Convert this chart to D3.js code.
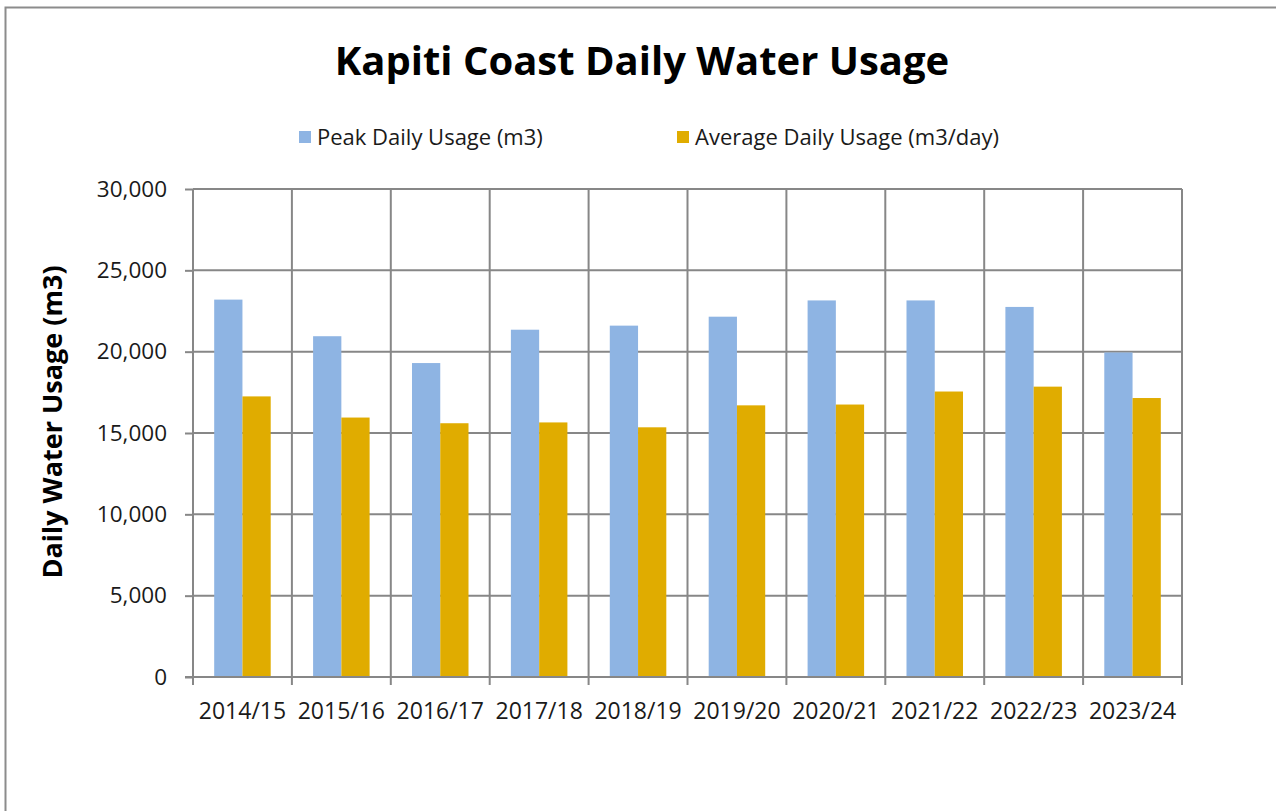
<!DOCTYPE html>
<html>
<head>
<meta charset="utf-8">
<script src="https://cdn.jsdelivr.net/npm/d3@7"></script>
<style>
  html, body { margin: 0; padding: 0; background: #fff; overflow: hidden; }
  svg { display: block; font-family: "Open Sans", sans-serif; }
</style>
</head>
<body>
<script>
// Chart data
const years = ["2014/15", "2015/16", "2016/17", "2017/18", "2018/19",
	"2019/20", "2020/21", "2021/22", "2022/23", "2023/24"];
const peakUsage = [23200, 20950, 19300, 21350, 21600, 22150, 23150, 23150, 22750, 19950];
const avgUsage = [17250, 15950, 15600, 15650, 15350, 16700, 16750, 17550, 17850, 17150];
const seriesNames = ["Peak Daily Usage (m3)", "Average Daily Usage (m3/day)"];
const seriesColors = ["#8EB4E3", "#E0AC00"];
const yTicks = [0, 5000, 10000, 15000, 20000, 25000, 30000];

const width = 1276, height = 811;
const margin = { top: 189, right: 94, bottom: 134, left: 193 };
const plotW = width - margin.left - margin.right,
	plotH = height - margin.top - margin.bottom;
const gridColor = "#878787";

const rows = years.map((y, i) => ({ year: y, values: [peakUsage[i], avgUsage[i]] }));

const svg = d3.select("body")
	.append("svg")
	.attr("width", width)
	.attr("height", height);

// outer chart border (runs off right and bottom edges)
svg.append("rect")
	.attr("x", 5.5).attr("y", 7.5)
	.attr("width", 1400).attr("height", 1000)
	.attr("fill", "none")
	.attr("stroke", "#8c8c8c")
	.attr("stroke-width", 2);

// Title
svg.append("text")
	.attr("x", 642)
	.attr("y", 75)
	.attr("text-anchor", "middle")
	.style("font-weight", "bold")
	.style("font-size", "40px")
	.attr("fill", "#000")
	.text("Kapiti Coast Daily Water Usage");

// Legend
const legendX = [298, 676];
const legend = svg.append("g")
	.selectAll("g")
	.data(seriesNames)
	.enter()
	.append("g")
	.attr("transform", (d, i) => "translate(" + legendX[i] + ",137)");
legend.append("rect")
	.attr("x", 1).attr("y", -6)
	.attr("width", 12).attr("height", 12)
	.attr("fill", (d, i) => seriesColors[i]);
legend.append("text")
	.attr("x", 19)
	.attr("dy", "0.35em")
	.style("font-size", "22px")
	.attr("fill", "#1a1a1a")
	.text(d => d);

const g = svg.append("g")
	.attr("transform", "translate(" + margin.left + "," + margin.top + ")");

// Scales
const x0 = d3.scaleBand().domain(years).range([0, plotW]).padding(0);
const x1 = d3.scaleBand().domain([0, 1]).range([0, x0.bandwidth()])
	.paddingInner(0).paddingOuter(0.75);
const y = d3.scaleLinear().domain([0, 30000]).range([plotH, 0]);

// Horizontal gridlines
g.append("g")
	.selectAll("line")
	.data(yTicks)
	.enter()
	.append("line")
	.attr("x1", 0).attr("x2", plotW)
	.attr("y1", d => y(d)).attr("y2", d => y(d))
	.attr("stroke", gridColor)
	.attr("stroke-width", 2);

// Vertical gridlines at category boundaries
const bounds = years.map(d => x0(d)).concat([plotW]);
g.append("g")
	.selectAll("line")
	.data(bounds)
	.enter()
	.append("line")
	.attr("x1", d => d).attr("x2", d => d)
	.attr("y1", 0).attr("y2", plotH + 8)
	.attr("stroke", gridColor)
	.attr("stroke-width", 2);

// Bars
g.append("g")
	.selectAll("g")
	.data(rows)
	.enter()
	.append("g")
	.attr("transform", d => "translate(" + x0(d.year) + ",0)")
	.selectAll("rect")
	.data(d => d.values)
	.enter()
	.append("rect")
	.attr("x", (d, i) => x1(i))
	.attr("width", x1.bandwidth())
	.attr("y", d => y(d))
	.attr("height", d => plotH - y(d))
	.attr("fill", (d, i) => seriesColors[i]);

// Y axis
const yAxis = g.append("g")
	.call(d3.axisLeft(y).tickValues(yTicks).tickFormat(d3.format(",")).tickSize(8).tickPadding(18));
yAxis.select(".domain").remove();
yAxis.selectAll("line").attr("stroke", gridColor).attr("stroke-width", 2);
yAxis.selectAll("text")
	.style("font-size", "22.5px")
	.attr("fill", "#1a1a1a")
	.style("font-family", "'Open Sans', sans-serif");

// X axis baseline
g.append("line")
	.attr("x1", -8).attr("x2", plotW)
	.attr("y1", plotH).attr("y2", plotH)
	.attr("stroke", gridColor)
	.attr("stroke-width", 2);

// X axis labels
const xAxis = g.append("g")
	.attr("transform", "translate(0," + plotH + ")")
	.call(d3.axisBottom(x0).tickSize(0).tickPadding(26));
xAxis.select(".domain").remove();
xAxis.selectAll("text")
	.style("font-size", "23px")
	.attr("fill", "#1a1a1a")
	.style("font-family", "'Open Sans', sans-serif");

// Y axis title
svg.append("text")
	.attr("transform", "translate(62,422) rotate(-90)")
	.attr("text-anchor", "middle")
	.style("font-weight", "bold")
	.style("font-size", "27px")
	.attr("fill", "#000")
	.text("Daily Water Usage (m3)");
</script>
</body>
</html>
